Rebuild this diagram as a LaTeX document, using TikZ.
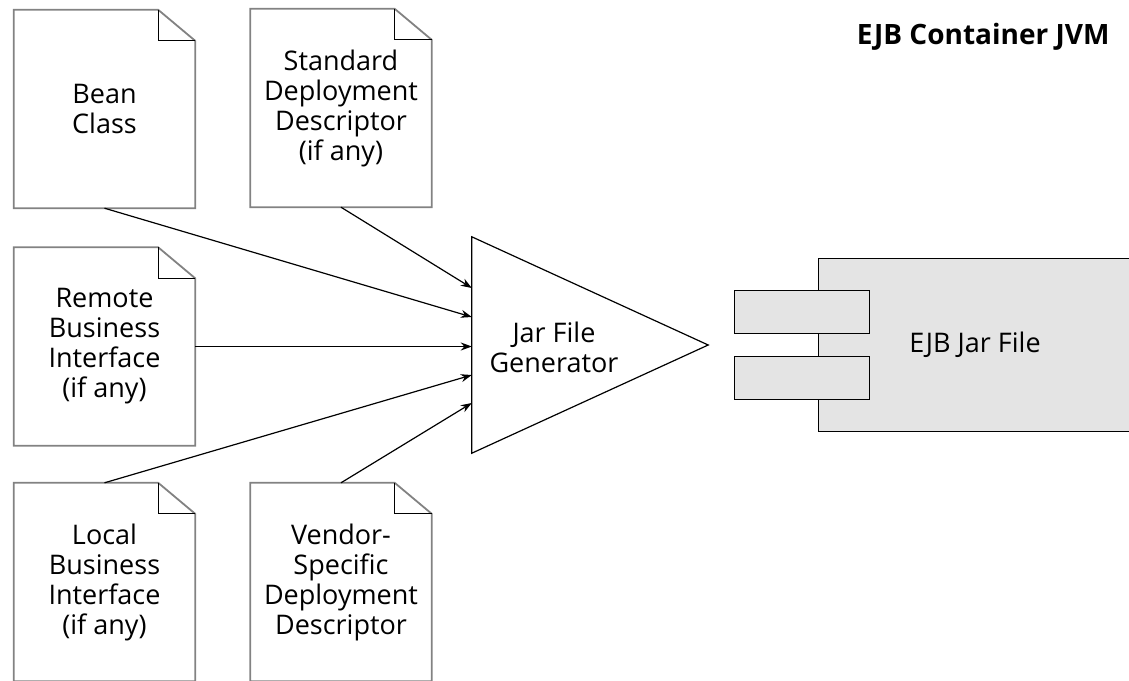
\documentclass[tikz,border=0pt]{standalone}
\usepackage{fontspec}
\setmainfont{Open Sans}
\usetikzlibrary{arrows.meta}
\definecolor{jarfill}{RGB}{228,228,228}
\definecolor{docline}{RGB}{130,130,130}
\newcommand{\docfont}{\fontsize{27}{30}\selectfont}
\begin{document}
\begin{tikzpicture}[x=1pt,y=-1pt,
  doc/.style={minimum width=181pt, minimum height=198pt, inner sep=0pt, align=center, font=\docfont},
  outline/.style={draw=docline, line width=1.8pt, line join=miter},
  fold/.style={draw=black, line width=1pt},
  conn/.style={draw=black, line width=1.2pt, -{Stealth[length=11pt,width=8pt]}},
  boxline/.style={draw=black, line width=1.2pt, fill=jarfill}]
\useasboundingbox (0,0) rectangle (1129,680);

% documents
\node[doc] (bean)   at (104.5,109)   {Bean\\Class};
\node[doc] (std)    at (341,108)     {Standard\\Deployment\\Descriptor\\(if any)};
\node[doc] (remote) at (104.5,346.5) {Remote\\Business\\Interface\\(if any)};
\node[doc] (local)  at (104.5,582)   {Local\\Business\\Interface\\(if any)};
\node[doc] (vendor) at (341,582)     {Vendor-\\Specific\\Deployment\\Descriptor};

\foreach \d in {bean,std,remote,local,vendor}{
  \draw[outline] (\d.north west) -- ([xshift=-37pt]\d.north east) -- ([yshift=-31pt]\d.north east) -- (\d.south east) -- (\d.south west) -- cycle;
  \draw[fold] ([xshift=-37pt]\d.north east) |- ([yshift=-31pt]\d.north east);
}

% generator triangle
\node[minimum width=236pt, minimum height=216pt, inner sep=0pt] (gen) at (590,345) {};
\draw[draw=black, line width=1.2pt, line join=miter] (gen.north west) -- (gen.east) -- (gen.south west) -- cycle;
\node[align=center, font=\docfont] (genlabel) at (554,347) {Jar File\\Generator};

% connectors
\draw[conn] (std.south) -- ([yshift=57pt]gen.west);
\draw[conn] (bean.south) -- ([yshift=28pt]gen.west);
\draw[conn] (remote.east) -- (remote.east -| gen.west);
\draw[conn] (local.north) -- ([yshift=-30pt]gen.west);
\draw[conn] (vendor.north) -- ([yshift=-58pt]gen.west);

% EJB jar file component
\node[boxline, minimum width=320pt, minimum height=173pt, inner sep=0pt, anchor=north west] (jar) at (818,258) {};
\node[font=\docfont] (jarlabel) at (975,345) {EJB Jar File};
\node[boxline, minimum width=135pt, minimum height=43pt, inner sep=0pt, anchor=north west] (port1) at (734,290) {};
\node[boxline, minimum width=135pt, minimum height=43pt, inner sep=0pt, anchor=north west] (port2) at (734,356) {};

% title
\node[font=\fontsize{28}{32}\selectfont\bfseries, anchor=east] (title) at (1113,37) {EJB Container JVM};
\end{tikzpicture}
\end{document}
